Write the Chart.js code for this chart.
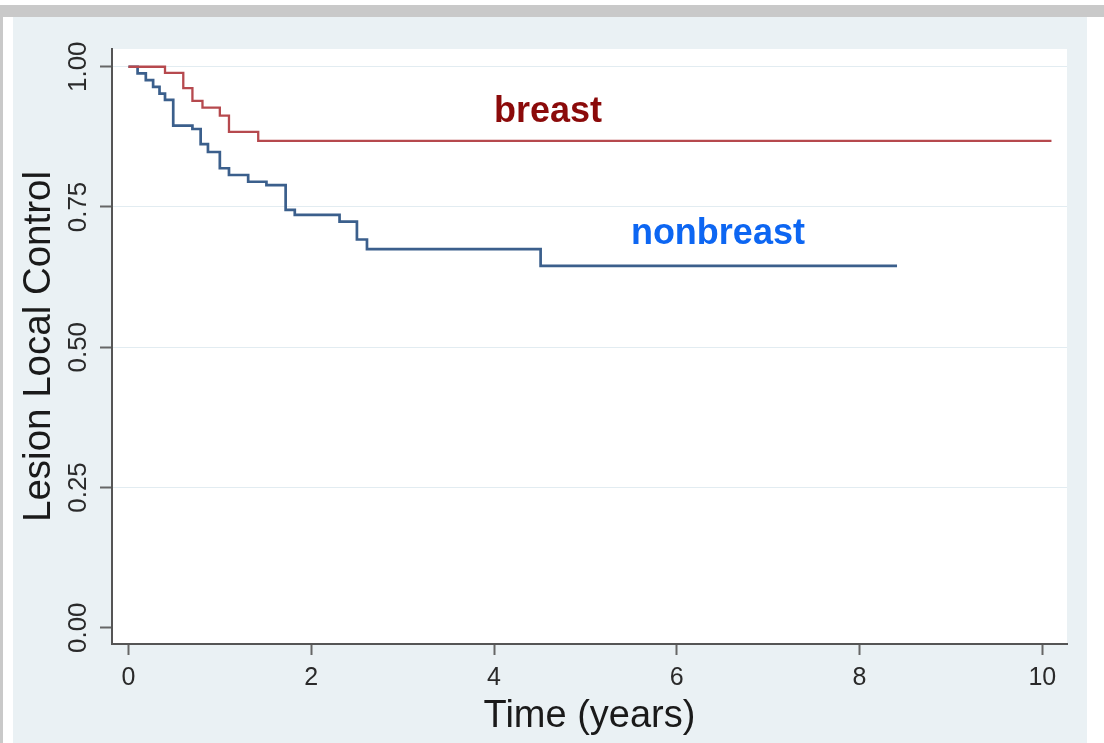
<!DOCTYPE html>
<html>
<head>
<meta charset="utf-8">
<script src="https://cdn.jsdelivr.net/npm/chart.js@4.4.0/dist/chart.umd.min.js"></script>
<style>
  html, body { margin: 0; padding: 0; background: #fff; }
  body { width: 1104px; height: 743px; position: relative; overflow: hidden; }
  #topbar { position: absolute; left: 0; top: 5px; width: 1104px; height: 12px; background: #c9c9c9; }
  #leftbar { position: absolute; left: 0; top: 5px; width: 3px; height: 738px; background: #c9c9c9; }
  #panel { position: absolute; left: 13px; top: 17px; width: 1074px; height: 726px; background: #eaf1f4; }
</style>
</head>
<body>
<div id="topbar"></div>
<div id="leftbar"></div>
<div id="panel"><canvas id="km"></canvas></div>
<script>
// Kaplan-Meier steps (time in years, survival after the drop)
const breastTime = [0, 0.40, 0.60, 0.70, 0.81, 1.00, 1.10, 1.42, 10.10];
const breastSurv = [1.0, 0.989, 0.962, 0.939, 0.927, 0.913, 0.884, 0.868, 0.868];

const nonbreastTime = [0, 0.10, 0.19, 0.27, 0.34, 0.40, 0.49, 0.70, 0.79, 0.87, 1.00, 1.10, 1.31, 1.51, 1.72, 1.82, 2.31, 2.50, 2.61, 4.51, 8.41];
const nonbreastSurv = [1.0, 0.988, 0.976, 0.964, 0.952, 0.941, 0.895, 0.889, 0.862, 0.848, 0.819, 0.807, 0.795, 0.789, 0.745, 0.736, 0.724, 0.692, 0.675, 0.645, 0.645];

const xTickValues = [0, 2, 4, 6, 8, 10];
const yTickValues = [0, 0.25, 0.5, 0.75, 1];
const seriesNames = ["breast", "nonbreast"];

const toPoints = (ts, vs) => ts.map((t, i) => ({ x: t, y: vs[i] }));

// white plot region
const plotBg = {
  id: "plotBg",
  beforeDraw(chart) {
    const { ctx, chartArea: a } = chart;
    ctx.save();
    ctx.fillStyle = "#ffffff";
    ctx.fillRect(a.left, a.top, a.right - a.left, a.bottom - a.top);
    ctx.restore();
  }
};

// rotated y tick labels (Stata style)
const yLabels = {
  id: "yLabels",
  afterDraw(chart) {
    const { ctx } = chart;
    const y = chart.scales.y;
    ctx.save();
    ctx.fillStyle = "#2a2a2a";
    ctx.font = "26px 'Liberation Sans', Arial, sans-serif";
    ctx.textAlign = "center";
    ctx.textBaseline = "middle";
    for (const v of yTickValues) {
      ctx.save();
      ctx.translate(66, y.getPixelForValue(v));
      ctx.rotate(-Math.PI / 2);
      ctx.fillText(v.toFixed(2), 0, 0);
      ctx.restore();
    }
    ctx.restore();
  }
};

// curve labels
const curveText = {
  id: "curveText",
  afterDatasetsDraw(chart) {
    const { ctx, scales: { x, y } } = chart;
    const spots = [
      { text: seriesNames[0], t: 4.59, v: 0.919, color: "#8b0a0a" },
      { text: seriesNames[1], t: 6.45, v: 0.702, color: "#0d66f2" }
    ];
    ctx.save();
    ctx.font = "bold 36px 'Liberation Sans', Arial, sans-serif";
    ctx.textAlign = "center";
    ctx.textBaseline = "middle";
    for (const s of spots) {
      ctx.fillStyle = s.color;
      ctx.fillText(s.text, x.getPixelForValue(s.t), y.getPixelForValue(s.v));
    }
    ctx.restore();
  }
};

new Chart(document.getElementById("km"), {
  type: "line",
  data: {
    datasets: [
      { label: seriesNames[0], data: toPoints(breastTime, breastSurv), borderColor: "#b6494e", borderWidth: 2.3, stepped: "before", pointRadius: 0, fill: false },
      { label: seriesNames[1], data: toPoints(nonbreastTime, nonbreastSurv), borderColor: "#3b5f8c", borderWidth: 2.7, stepped: "before", pointRadius: 0, fill: false }
    ]
  },
  options: {
    responsive: true,
    maintainAspectRatio: false,
    animation: false,
    layout: { padding: { top: 32, right: 20, left: 0, bottom: 0 } },
    plugins: { legend: { display: false }, tooltip: { enabled: false } },
    scales: {
      x: {
        type: "linear",
        min: -0.18,
        max: 10.27,
        afterBuildTicks: (s) => { s.ticks = xTickValues.map(v => ({ value: v })); },
        afterFit: (s) => { s.height = 99; },
        border: { color: "#555", width: 2 },
        grid: { drawOnChartArea: false, tickColor: "#666", tickLength: 11, tickWidth: 2 },
        ticks: { color: "#2a2a2a", padding: 8, font: { family: "'Liberation Sans', Arial", size: 25 } },
        title: { display: true, text: "Time (years)", color: "#1a1a1a", padding: { top: 0, bottom: 4 }, font: { family: "'Liberation Sans', Arial", size: 38 } }
      },
      y: {
        type: "linear",
        min: -0.029,
        max: 1.0316,
        afterBuildTicks: (s) => { s.ticks = yTickValues.map(v => ({ value: v })); },
        afterFit: (s) => { s.width = 99; },
        border: { color: "#555", width: 2 },
        grid: {
          color: (c) => (c.tick && c.tick.value === 0 ? "rgba(0,0,0,0)" : "#e2ecf1"),
          lineWidth: 1,
          tickColor: "#666",
          tickLength: 12,
          tickWidth: 2
        },
        ticks: { display: false },
        title: { display: true, text: "Lesion Local Control", color: "#1a1a1a", padding: { top: 3, bottom: 0 }, font: { family: "'Liberation Sans', Arial", size: 38.5 } }
      }
    }
  },
  plugins: [plotBg, yLabels, curveText]
});
</script>
</body>
</html>
